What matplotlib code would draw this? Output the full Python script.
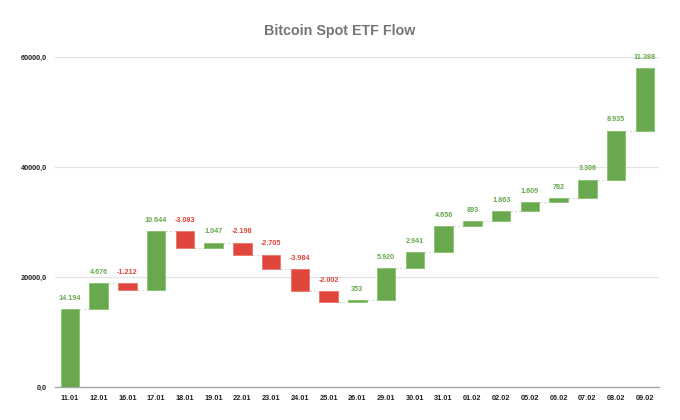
import matplotlib.pyplot as plt
import numpy as np

plt.rcParams['font.family'] = ['Liberation Sans', 'DejaVu Sans']

# Daily flows (in BTC), cumulative waterfall
dates = ['11.01', '12.01', '16.01', '17.01', '18.01', '19.01', '22.01',
         '23.01', '24.01', '25.01', '26.01', '29.01', '30.01', '31.01',
         '01.02', '02.02', '05.02', '06.02', '07.02', '08.02', '09.02']
flows = [14194, 4676, -1212, 10644, -3083, 1047, -2198, -2705, -3984,
         -2002, 353, 5920, 2941, 4656, 893, 1863, 1609, 782, 3306, 8935,
         11388]

green = '#6aa84f'
red = '#e0463b'
green_edge = '#8cc673'
red_edge = '#ee7a70'


def fmt_thousands(v):
    s = '{:,}'.format(abs(v)).replace(',', '.')
    return '-' + s if v < 0 else s


flows = np.array(flows)
ends = np.cumsum(flows)
starts = ends - flows
x = np.arange(len(dates))

fig = plt.figure(figsize=(6.8, 4.2), dpi=100)
ax = fig.add_axes([0.0815, 0.0786, 0.888, 0.7857])

bottoms = np.minimum(starts, ends)
heights = np.abs(flows)
colors = [green if f >= 0 else red for f in flows]
edges = [green_edge if f >= 0 else red_edge for f in flows]
ax.bar(x, heights, bottom=bottoms, width=0.64, color=colors,
       edgecolor=edges, linewidth=0.7, zorder=3)

# connectors between bars
bw = 0.32
for i in range(len(flows) - 1):
    ax.plot([x[i] + bw, x[i + 1] - bw], [ends[i], ends[i]],
            color='#d9d9d9', linewidth=0.8, linestyle=(0, (2, 2)), zorder=2)

# value labels
for i, f in enumerate(flows):
    top = max(starts[i], ends[i])
    ax.text(x[i], top + 1300, fmt_thousands(f), ha='center', va='bottom',
            fontsize=5.2, fontweight='bold',
            color=green if f >= 0 else red, clip_on=False)

ax.set_xlim(-0.5, len(dates) - 0.5)
ax.set_ylim(0, 60000)
ax.set_yticks([0, 20000, 40000, 60000])
ax.set_yticklabels(['0,0', '20000,0', '40000,0', '60000,0'])
ax.set_xticks(x)
ax.set_xticklabels(dates)
for lab in ax.get_xticklabels() + ax.get_yticklabels():
    lab.set_fontweight('bold')
    lab.set_fontsize(5.3)
    lab.set_color('#222222')

ax.tick_params(length=0, pad=6)
ax.grid(axis='y', color='#e3e3e3', linewidth=0.9, zorder=0)
for s in ['top', 'right', 'left']:
    ax.spines[s].set_visible(False)
ax.spines['bottom'].set_color('#a8a8a8')
ax.spines['bottom'].set_linewidth(1.0)
ax.set_axisbelow(True)

fig.text(0.5, 0.927, 'Bitcoin Spot ETF Flow', ha='center', va='center',
         fontsize=10.3, fontweight='bold', color='#757575')

fig.savefig('out.png', dpi=100, facecolor='white')
